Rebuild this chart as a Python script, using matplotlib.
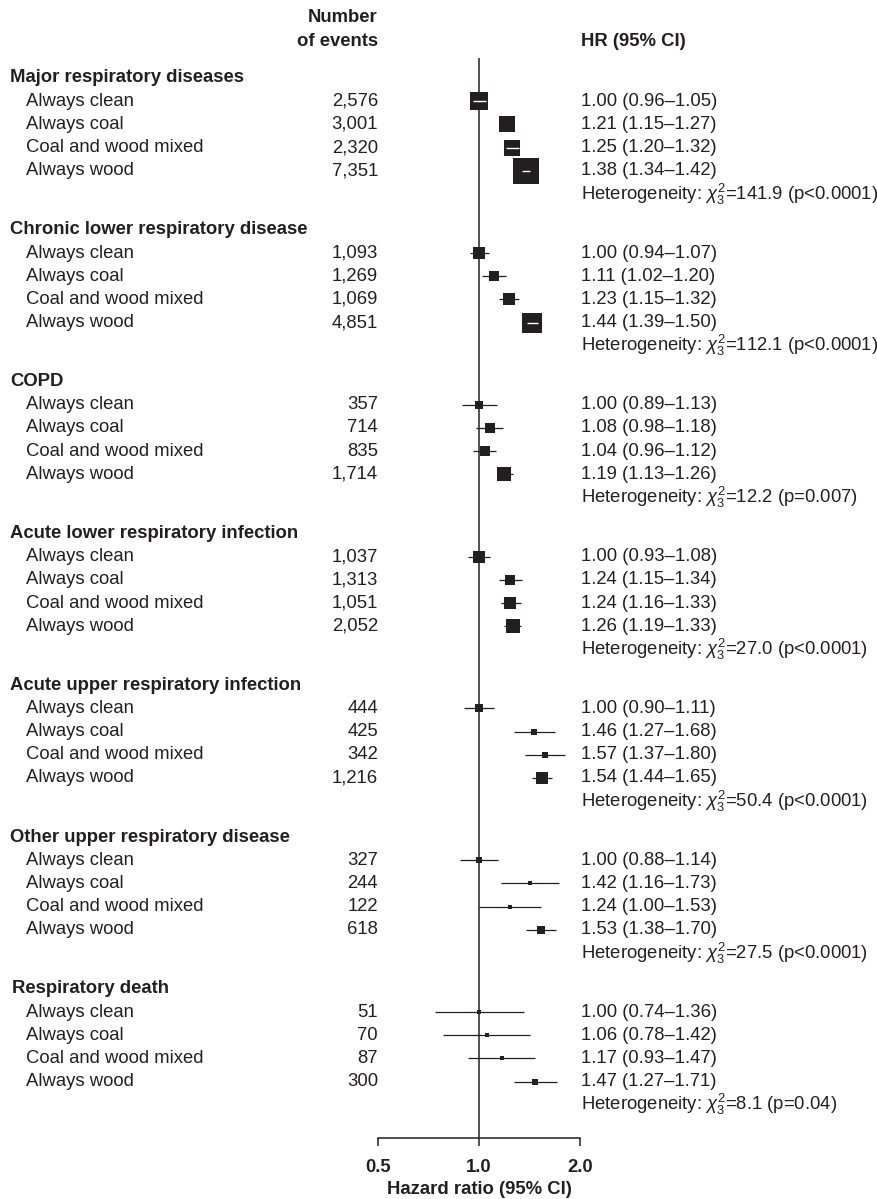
import numpy as np
import matplotlib
matplotlib.use("Agg")
import matplotlib.pyplot as plt
from matplotlib import transforms

plt.rcParams['font.family'] = ['Liberation Sans', 'DejaVu Sans']
plt.rcParams['mathtext.fontset'] = 'custom'
plt.rcParams['mathtext.rm'] = 'Liberation Sans'
plt.rcParams['mathtext.it'] = 'Liberation Sans:italic'

# outcomes and fuel-use categories
groups = ["Major respiratory diseases", "Chronic lower respiratory disease", "COPD",
          "Acute lower respiratory infection", "Acute upper respiratory infection",
          "Other upper respiratory disease", "Respiratory death"]
categories = ["Always clean", "Always coal", "Coal and wood mixed", "Always wood"]

events = [[2576, 3001, 2320, 7351],
          [1093, 1269, 1069, 4851],
          [357, 714, 835, 1714],
          [1037, 1313, 1051, 2052],
          [444, 425, 342, 1216],
          [327, 244, 122, 618],
          [51, 70, 87, 300]]
hr = [[1.00, 1.21, 1.25, 1.38],
      [1.00, 1.11, 1.23, 1.44],
      [1.00, 1.08, 1.04, 1.19],
      [1.00, 1.24, 1.24, 1.26],
      [1.00, 1.46, 1.57, 1.54],
      [1.00, 1.42, 1.24, 1.53],
      [1.00, 1.06, 1.17, 1.47]]
ci_lo = [[0.96, 1.15, 1.20, 1.34],
         [0.94, 1.02, 1.15, 1.39],
         [0.89, 0.98, 0.96, 1.13],
         [0.93, 1.15, 1.16, 1.19],
         [0.90, 1.27, 1.37, 1.44],
         [0.88, 1.16, 1.00, 1.38],
         [0.74, 0.78, 0.93, 1.27]]
ci_hi = [[1.05, 1.27, 1.32, 1.42],
         [1.07, 1.20, 1.32, 1.50],
         [1.13, 1.18, 1.12, 1.26],
         [1.08, 1.34, 1.33, 1.33],
         [1.11, 1.68, 1.80, 1.65],
         [1.14, 1.73, 1.53, 1.70],
         [1.36, 1.42, 1.47, 1.71]]
chi2 = [141.9, 112.1, 12.2, 27.0, 50.4, 27.5, 8.1]
pvals = ["p<0.0001", "p<0.0001", "p=0.007", "p<0.0001", "p<0.0001", "p<0.0001", "p=0.04"]
xticks = [0.5, 1.0, 2.0]

W, H = 878, 1199
INK = '#231f20'
FS = 13.3

fig = plt.figure(figsize=(W / 100, H / 100), dpi=100)
ax = fig.add_axes([0, 0, 1, 1])
ax.set_xscale('log', base=2)
# 0.5 sits at x=378px and 2.0 at x=580px
ppo = (580 - 378) / 2.0
ax.set_xlim(0.5 * 2 ** (-378 / ppo), 2.0 * 2 ** ((W - 580) / ppo))
ax.set_ylim(H, 0)
ax.patch.set_alpha(0)

# x in figure fraction, y in rows (pixels from top)
tx = transforms.blended_transform_factory(ax.transAxes, ax.transData)

def fx(px):
    return px / W

axis_y = 1138
ax.vlines(1.0, 58, axis_y, color=INK, lw=1.1, zorder=1)

# column headers
ax.text(fx(378), 17, "Number", transform=tx, ha='right', va='center',
        fontsize=FS, fontweight='bold', color=INK)
ax.text(fx(378), 41, "of events", transform=tx, ha='right', va='center',
        fontsize=FS, fontweight='bold', color=INK)
ax.text(fx(581), 41, "HR (95% CI)", transform=tx, ha='left', va='center',
        fontsize=FS, fontweight='bold', color=INK)

for g, name in enumerate(groups):
    y0 = 78 + 151.8 * g
    hx = 12 if g == len(groups) - 1 else 10
    ax.text(fx(hx), y0, name, transform=tx, ha='left', va='center',
            fontsize=FS, fontweight='bold', color=INK)
    for k, cat in enumerate(categories):
        y = y0 + 23.2 * (k + 1)
        h, lo, hi = hr[g][k], ci_lo[g][k], ci_hi[g][k]
        ax.text(fx(26), y, cat, transform=tx, ha='left', va='center',
                fontsize=FS, color=INK)
        ax.text(fx(378), y, f"{events[g][k]:,}", transform=tx, ha='right',
                va='center', fontsize=FS, color=INK)
        ax.text(fx(581), y, f"{h:.2f} ({lo:.2f}\u2013{hi:.2f})", transform=tx,
                ha='left', va='center', fontsize=FS, color=INK)

        # box side grows with precision of the estimate
        width = np.log(hi / lo)
        side = 1.5 / width + 1.0
        ax.plot([lo, hi], [y, y], color=INK, lw=0.9, zorder=2,
                solid_capstyle='butt')
        ax.plot(h, y, marker='s', ms=side * 0.72, mew=0, color=INK, zorder=3)
        ci_px = ppo * np.log2(hi / lo)
        if ci_px + 2 < side:
            ax.plot([lo, hi], [y, y], color='white', lw=1.0, zorder=4,
                    solid_capstyle='butt')

    ax.text(fx(581), y0 + 23.2 * 5,
            rf"Heterogeneity: $\chi^2_3$={chi2[g]:.1f} ({pvals[g]})",
            transform=tx, ha='left', va='center', fontsize=FS, color=INK)

# hazard ratio axis
for s in ['top', 'left', 'right']:
    ax.spines[s].set_visible(False)
ax.spines['bottom'].set_position(('data', axis_y))
ax.spines['bottom'].set_bounds(xticks[0], xticks[-1])
ax.spines['bottom'].set_color(INK)
ax.spines['bottom'].set_linewidth(1.1)
ax.set_xticks(xticks, labels=[f"{t:.1f}" for t in xticks])
ax.xaxis.set_minor_locator(matplotlib.ticker.NullLocator())
ax.tick_params(axis='x', direction='out', length=6, width=1.1, color=INK,
               labelsize=FS, labelcolor=INK, pad=9)
for lbl in ax.get_xticklabels():
    lbl.set_fontweight('bold')
ax.set_yticks([])
ax.text(1.0, 1190, "Hazard ratio (95% CI)", ha='center', va='center',
        fontsize=FS, fontweight='bold', color=INK)

fig.savefig("out.png", dpi=100, facecolor='white')
